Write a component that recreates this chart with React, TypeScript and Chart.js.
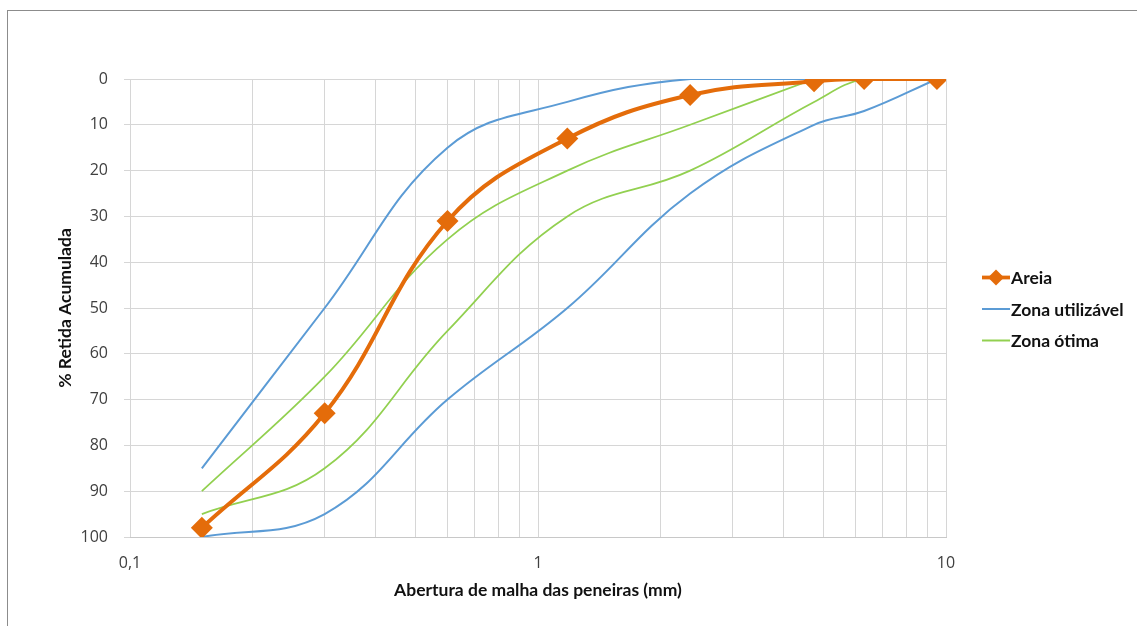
import { useEffect, useRef } from "react";
import { Chart, registerables } from "chart.js";

Chart.register(...registerables);

// Sieve openings (mm) used in the grading test
const sieveOpenings = [0.15, 0.3, 0.6, 1.18, 2.36, 4.75, 6.3, 9.5];

// Cumulative retained percentage of the sand sample
const areiaRetained = [98, 73, 31, 13, 3.5, 0.5, 0, 0];

// Usable zone limits
const usableLowerLimit = [85, 50, 15, 5, 0, 0, 0, 0];
const usableUpperLimit = [100, 95, 70, 50, 25, 10, 7, 0];

// Optimal zone limits
const optimalLowerLimit = [90, 65, 35, 20, 10, 0];
const optimalUpperLimit = [95, 85, 55, 30, 20, 5, 0, 0];

// Logarithmic grid and labelled ticks on the sieve axis
const xGridValues = [0.1, 0.2, 0.3, 0.4, 0.5, 0.6, 0.7, 0.8, 0.9, 1, 2, 3, 4, 5, 6, 7, 8, 9, 10];
const xTickValues = [0.1, 1, 10];
const xTickLabels = ["0,1", "1", "10"];

const yMin = 0;
const yMax = 100;
const yStep = 10;

const legendLabels = ["Areia", "Zona utilizável", "Zona ótima"];

const ORANGE = "#E46C0A";
const BLUE = "#5B9BD5";
const GREEN = "#92D050";
const GRID = "#d6d6d6";
const TICK_FONT = "'Open Sans', sans-serif";
const TITLE_FONT = "Lato, 'Open Sans', sans-serif";
const TITLE_SIZE = 17.5;

const toPoints = (values: number[]) =>
  values.map((y, i) => ({ x: sieveOpenings[i], y }));

// Legend drawn at the right side of the plot: line swatch (+ marker) and bold label
const sideLegend = {
  id: "sideLegend",
  afterDraw(chart: any) {
    const { ctx, chartArea } = chart;
    const colors = [ORANGE, BLUE, GREEN];
    const widths = [3.75, 2, 2];
    const x0 = chartArea.right + 36;
    const x1 = x0 + 28;
    const mid = (chartArea.top + chartArea.bottom) / 2;
    const gap = 31.5;
    ctx.save();
    legendLabels.forEach((label, i) => {
      const y = mid + 1 + (i - 1) * gap;
      ctx.strokeStyle = colors[i];
      ctx.lineWidth = widths[i];
      ctx.beginPath();
      ctx.moveTo(x0, y);
      ctx.lineTo(x1, y);
      ctx.stroke();
      if (i === 0) {
        const cx = (x0 + x1) / 2;
        const r = 8;
        ctx.fillStyle = ORANGE;
        ctx.beginPath();
        ctx.moveTo(cx, y - r);
        ctx.lineTo(cx + r, y);
        ctx.lineTo(cx, y + r);
        ctx.lineTo(cx - r, y);
        ctx.closePath();
        ctx.fill();
      }
      ctx.fillStyle = "#111";
      ctx.font = `bold ${TITLE_SIZE}px ${TITLE_FONT}`;
      ctx.textBaseline = "middle";
      ctx.textAlign = "left";
      ctx.fillText(label, x1 + 1, y + 1);
    });
    ctx.restore();
  },
};

export default function App() {
  const canvasRef = useRef<HTMLCanvasElement | null>(null);

  useEffect(() => {
    const canvas = canvasRef.current;
    if (!canvas) return;

    const chart = new Chart(canvas, {
      type: "line",
      data: {
        datasets: [
          {
            label: legendLabels[0],
            data: toPoints(areiaRetained),
            borderColor: ORANGE,
            backgroundColor: ORANGE,
            borderWidth: 4,
            tension: 0.4,
            pointStyle: "rectRot",
            pointRadius: 11,
            pointBorderWidth: 0,
            pointBackgroundColor: ORANGE,
            order: 0,
          },
          {
            label: legendLabels[1],
            data: toPoints(usableLowerLimit),
            borderColor: BLUE,
            borderWidth: 2,
            tension: 0.4,
            pointRadius: 0,
            order: 2,
          },
          {
            label: legendLabels[1],
            data: toPoints(usableUpperLimit),
            borderColor: BLUE,
            borderWidth: 2,
            tension: 0.4,
            pointRadius: 0,
            order: 2,
          },
          {
            label: legendLabels[2],
            data: toPoints(optimalLowerLimit),
            borderColor: GREEN,
            borderWidth: 1.75,
            tension: 0.4,
            pointRadius: 0,
            order: 1,
          },
          {
            label: legendLabels[2],
            data: toPoints(optimalUpperLimit),
            borderColor: GREEN,
            borderWidth: 1.75,
            tension: 0.4,
            pointRadius: 0,
            order: 1,
          },
        ],
      },
      options: {
        animation: false,
        responsive: false,
        maintainAspectRatio: false,
        layout: { padding: { left: 0, top: 79, right: 191, bottom: 0 } },
        plugins: {
          legend: { display: false },
          tooltip: { enabled: false },
        },
        scales: {
          x: {
            type: "logarithmic",
            min: xGridValues[0],
            max: xGridValues[xGridValues.length - 1],
            afterBuildTicks: (axis: any) => {
              axis.ticks = xGridValues.map((value) => ({ value }));
            },
            afterFit: (axis: any) => {
              axis.height = 89;
            },
            grid: { color: GRID, lineWidth: 1, drawTicks: false },
            border: { display: true, color: "#c8c8c8" },
            ticks: {
              autoSkip: false,
              maxRotation: 0,
              padding: 17,
              color: "#404040",
              font: { family: TICK_FONT, size: 16 },
              callback: (value: any) => {
                const idx = xTickValues.findIndex(
                  (v) => Math.abs(v - Number(value)) < 1e-9
                );
                return idx >= 0 ? xTickLabels[idx] : "";
              },
            },
            title: {
              display: true,
              text: "Abertura de malha das peneiras (mm)",
              color: "#111",
              font: { family: TITLE_FONT, size: TITLE_SIZE, weight: "bold" },
              padding: { top: 0, bottom: 25.5 },
            },
          },
          y: {
            type: "linear",
            reverse: true,
            min: yMin,
            max: yMax,
            afterFit: (axis: any) => {
              axis.width = 130;
            },
            grid: { color: GRID, lineWidth: 1, drawTicks: true, tickLength: 6 },
            border: { display: false },
            ticks: {
              stepSize: yStep,
              padding: 16,
              color: "#404040",
              font: { family: TICK_FONT, size: 16 },
            },
            title: {
              display: true,
              text: "% Retida Acumulada",
              color: "#111",
              font: { family: TITLE_FONT, size: TITLE_SIZE, weight: "bold" },
              padding: { top: 54.5, bottom: 0 },
            },
          },
        },
      },
      plugins: [sideLegend],
    });

    return () => chart.destroy();
  }, []);

  return (
    <div
      style={{
        position: "fixed",
        left: 0,
        top: 0,
        width: 1137,
        height: 626,
        overflow: "hidden",
        background: "#fff",
      }}
    >
      <div
        style={{
          position: "absolute",
          left: 7,
          top: 10,
          width: 1300,
          height: 800,
          border: "1px solid #8c8c8c",
        }}
      />
      <canvas
        ref={canvasRef}
        width={1137}
        height={626}
        style={{ position: "absolute", left: 0, top: 0, width: 1137, height: 626 }}
      />
    </div>
  );
}
